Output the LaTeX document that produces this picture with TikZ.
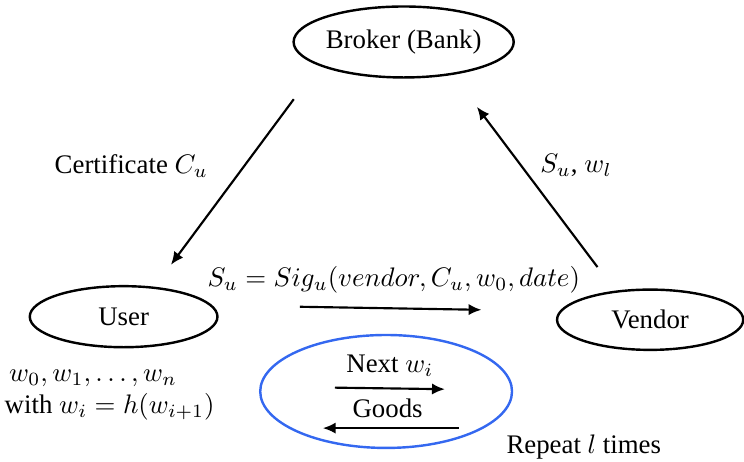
\documentclass[tikz,border=0pt]{standalone}
\usepackage[no-math]{fontspec}
\setmainfont{Liberation Serif}
\usepackage{amsmath}
\usepackage{xcolor}
\usetikzlibrary{arrows.meta, positioning, shapes.geometric}

\definecolor{loopblue}{RGB}{52,104,240}

\begin{document}
\begin{tikzpicture}[
    every node/.style={font=\normalsize},
    party/.style={ellipse, draw, line width=0.9pt, inner sep=0pt, align=center},
    lbl/.style={inner sep=1pt},
    msg/.style={-{Latex[length=4.8pt, width=4.2pt]}, line width=0.8pt}
]
\useasboundingbox (0,0) rectangle (9.75,-6.05);

% the three parties
\node[party, minimum width=2.59cm, minimum height=0.93cm] (broker) at (5.29,-0.55) {Broker (Bank)};
\node[party, minimum width=2.46cm, minimum height=0.80cm] (user) at (1.62,-4.15) {User};
\node[party, minimum width=2.44cm, minimum height=0.79cm] (vendor) at (8.52,-4.19) {Vendor};

% repeated payment loop
\node[ellipse, draw=loopblue, line width=0.9pt, minimum width=3.30cm, minimum height=1.48cm] (loop) at (5.06,-5.13) {};

% arrow end points
\coordinate (bu1) at (3.85,-1.30);
\coordinate (bu2) at (2.24,-3.47);
\coordinate (vb1) at (7.83,-3.50);
\coordinate (vb2) at (6.25,-1.40);
\coordinate (uv1) at (3.93,-4.02);
\coordinate (uv2) at (6.31,-4.06);
\coordinate (nx1) at (4.39,-5.08);
\coordinate (nx2) at (5.83,-5.10);
\coordinate (gd1) at (6.01,-5.61);
\coordinate (gd2) at (4.23,-5.61);

\draw[msg] (bu1) -- (bu2);
\draw[msg] (vb1) -- (vb2);
\draw[msg] (uv1) -- (uv2);
\draw[msg] (nx1) -- (nx2);
\draw[msg] (gd1) -- (gd2);

\node[lbl] (cert) at (1.72,-2.17) {Certificate $C_u$};
\node[lbl] (pay) at (7.55,-2.17) {$S_u$, $w_l$};
\node[lbl] (sig) at (5.16,-3.67) {$S_u = Sig_u(vendor, C_u, w_0, date)$};
\node[lbl] (next) at (5.11,-4.79) {Next $w_i$};
\node[lbl] (goods) at (5.08,-5.35) {Goods};
\node[lbl] (rep) at (7.65,-5.86) {Repeat $l$ times};
\node[lbl, align=left, anchor=west] (chain) at (0.02,-5.18) {\,$w_0, w_1, \ldots, w_n$\\with $w_i = h(w_{i+1})$};
\end{tikzpicture}
\end{document}
